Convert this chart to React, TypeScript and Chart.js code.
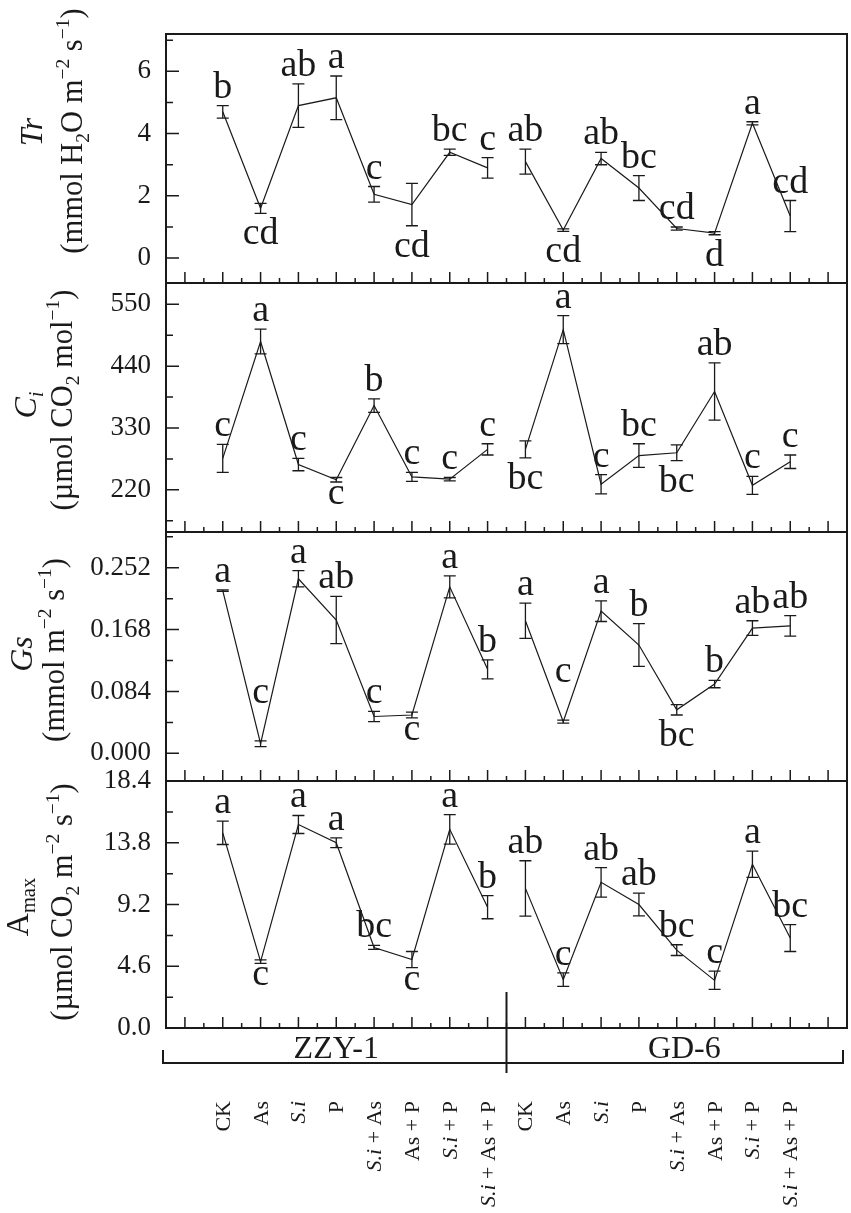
import React, { useEffect, useRef } from 'react';
import { Chart, registerables } from 'chart.js';

Chart.register(...registerables);

const FAMILY = '"Liberation Serif", "Times New Roman", Times, serif';
const W = 851;
const H = 1213;
const INK = '#1a1a1a';

// ---------- categories ----------
const GROUPS = ['ZZY-1', 'GD-6'];
const TREATMENTS = ['CK', 'As', 'S.i', 'P', 'S.i + As', 'As + P', 'S.i + P', 'S.i + As + P'];

// ---------- Tr ----------
const TR_ZZY = [4.7, 1.6, 4.9, 5.15, 2.05, 1.72, 3.4, 2.9];
const TR_ZZY_SD = [0.2, 0.16, 0.7, 0.7, 0.25, 0.68, 0.1, 0.33];
const TR_GD = [3.1, 0.9, 3.2, 2.25, 0.95, 0.8, 4.33, 1.35];
const TR_GD_SD = [0.4, 0.04, 0.2, 0.4, 0.05, 0.05, 0.05, 0.5];
const TR_ZZY_LET = ['b', 'cd', 'ab', 'a', 'c', 'cd', 'bc', 'c'];
const TR_GD_LET = ['ab', 'cd', 'ab', 'bc', 'cd', 'd', 'a', 'cd'];
const TR_ZZY_SIDE = ['t', 'b', 't', 't', 't', 'b', 't', 't'];
const TR_GD_SIDE = ['t', 'b', 't', 't', 't', 'b', 't', 't'];
const TR_TICKS = [0, 2, 4, 6];
const TR_MINOR = [1, 3, 5, 7];

// ---------- Ci ----------
const CI_ZZY = [276, 484, 265, 238, 370, 243, 239, 292];
const CI_ZZY_SD = [25, 22, 11, 4, 12, 8, 3, 10];
const CI_GD = [292, 505, 230, 281, 286, 395, 228, 270];
const CI_GD_SD = [15, 25, 17, 21, 14, 51, 16, 12];
const CI_ZZY_LET = ['c', 'a', 'c', 'c', 'b', 'c', 'c', 'c'];
const CI_GD_LET = ['bc', 'a', 'c', 'bc', 'bc', 'ab', 'c', 'c'];
const CI_ZZY_SIDE = ['t', 't', 't', 'b', 't', 't', 't', 't'];
const CI_GD_SIDE = ['b', 't', 't', 't', 'b', 't', 't', 't'];
const CI_TICKS = [220, 330, 440, 550];
const CI_MINOR = [165, 275, 385, 495];

// ---------- Gs ----------
const GS_ZZY = [0.221, 0.013, 0.237, 0.181, 0.05, 0.052, 0.226, 0.114];
const GS_ZZY_SD = [0.001, 0.004, 0.011, 0.032, 0.007, 0.004, 0.015, 0.013];
const GS_GD = [0.18, 0.043, 0.193, 0.147, 0.059, 0.094, 0.17, 0.173];
const GS_GD_SD = [0.024, 0.002, 0.014, 0.029, 0.007, 0.005, 0.01, 0.014];
const GS_ZZY_LET = ['a', 'c', 'a', 'ab', 'c', 'c', 'a', 'b'];
const GS_GD_LET = ['a', 'c', 'a', 'b', 'bc', 'b', 'ab', 'ab'];
const GS_ZZY_SIDE = ['t', 'T', 't', 't', 't', 'b', 't', 't'];
const GS_GD_SIDE = ['t', 'T', 't', 't', 'b', 't', 't', 't'];
const GS_TICKS = [0, 0.084, 0.168, 0.252];
const GS_MINOR = [0.042, 0.126, 0.21, 0.294];

// ---------- Amax ----------
const AM_ZZY = [14.54, 4.95, 15.16, 13.8, 6.0, 5.1, 14.8, 9.0];
const AM_ZZY_SD = [0.87, 0.13, 0.67, 0.37, 0.15, 0.6, 1.1, 0.86];
const AM_GD = [10.4, 3.6, 10.85, 9.2, 5.8, 3.55, 12.2, 6.7];
const AM_GD_SD = [2.06, 0.5, 1.1, 0.85, 0.4, 0.68, 0.98, 1.0];
const AM_ZZY_LET = ['a', 'c', 'a', 'a', 'bc', 'c', 'a', 'b'];
const AM_GD_LET = ['ab', 'c', 'ab', 'ab', 'bc', 'c', 'a', 'bc'];
const AM_ZZY_SIDE = ['t', 'b', 't', 't', 't', 'b', 't', 't'];
const AM_GD_SIDE = ['t', 't', 't', 't', 't', 't', 't', 't'];
const AM_TICKS = [0, 4.6, 9.2, 13.8, 18.4];
const AM_MINOR = [2.3, 6.9, 11.5, 16.1];

// ---------- x axis ticks ----------
const X_MAJOR = [-1, 0, 1, 2, 3, 4, 5, 6, 7, 8, 9, 10, 11, 12, 13, 14, 15, 16];
const X_MINOR = [-0.5, 0.5, 1.5, 2.5, 3.5, 4.5, 5.5, 6.5, 7.5, 8.5, 9.5, 10.5, 11.5, 12.5, 13.5, 14.5, 15.5];

type Seg = { t: string; it?: boolean; sub?: boolean; sup?: boolean };

interface Panel {
  zzy: number[]; zzySd: number[]; gd: number[]; gdSd: number[];
  zzyLet: string[]; gdLet: string[]; zzySide: string[]; gdSide: string[];
  min: number; max: number; ticks: number[]; minor: number[]; decimals: number;
  top: number; bottom: number;
  title1: Seg[]; title2: Seg[]; t1x: number; t2x: number; t1y: number; t2y: number;
  last?: boolean;
}

const PANELS: Panel[] = [
  {
    zzy: TR_ZZY, zzySd: TR_ZZY_SD, gd: TR_GD, gdSd: TR_GD_SD,
    zzyLet: TR_ZZY_LET, gdLet: TR_GD_LET, zzySide: TR_ZZY_SIDE, gdSide: TR_GD_SIDE,
    min: -0.8, max: 7.2, ticks: TR_TICKS, minor: TR_MINOR, decimals: 0,
    top: 34, bottom: 283,
    title1: [{ t: 'Tr', it: true }],
    title2: [{ t: '(mmol H' }, { t: '2', sub: true }, { t: 'O m' }, { t: '\u22122', sup: true }, { t: ' s' }, { t: '\u22121', sup: true }, { t: ')' }],
    t1x: 42, t2x: 82, t1y: 132, t2y: 131,
  },
  {
    zzy: CI_ZZY, zzySd: CI_ZZY_SD, gd: CI_GD, gdSd: CI_GD_SD,
    zzyLet: CI_ZZY_LET, gdLet: CI_GD_LET, zzySide: CI_ZZY_SIDE, gdSide: CI_GD_SIDE,
    min: 145, max: 588, ticks: CI_TICKS, minor: CI_MINOR, decimals: 0,
    top: 283, bottom: 532,
    title1: [{ t: 'C', it: true }, { t: 'i', it: true, sub: true }],
    title2: [{ t: '(\u00b5mol CO' }, { t: '2', sub: true }, { t: ' mol' }, { t: '\u22121', sup: true }, { t: ')' }],
    t1x: 36, t2x: 72, t1y: 405, t2y: 400,
  },
  {
    zzy: GS_ZZY, zzySd: GS_ZZY_SD, gd: GS_GD, gdSd: GS_GD_SD,
    zzyLet: GS_ZZY_LET, gdLet: GS_GD_LET, zzySide: GS_ZZY_SIDE, gdSide: GS_GD_SIDE,
    min: -0.0376, max: 0.3005, ticks: GS_TICKS, minor: GS_MINOR, decimals: 3,
    top: 532, bottom: 781,
    title1: [{ t: 'Gs', it: true }],
    title2: [{ t: '(mmol m' }, { t: '\u22122', sup: true }, { t: ' s' }, { t: '\u22121', sup: true }, { t: ')' }],
    t1x: 32, t2x: 64, t1y: 654, t2y: 650,
  },
  {
    zzy: AM_ZZY, zzySd: AM_ZZY_SD, gd: AM_GD, gdSd: AM_GD_SD,
    zzyLet: AM_ZZY_LET, gdLet: AM_GD_LET, zzySide: AM_ZZY_SIDE, gdSide: AM_GD_SIDE,
    min: 0, max: 18.4, ticks: AM_TICKS, minor: AM_MINOR, decimals: 1,
    top: 781, bottom: 1028,
    title1: [{ t: 'A' }, { t: 'max', sub: true }],
    title2: [{ t: '(\u00b5mol CO' }, { t: '2', sub: true }, { t: ' m' }, { t: '\u22122', sup: true }, { t: ' s' }, { t: '\u22121', sup: true }, { t: ')' }],
    t1x: 28, t2x: 72, t1y: 907, t2y: 902,
    last: true,
  },
];

function segFont(s: Seg, size: number) {
  const sz = s.sub || s.sup ? size * 0.64 : size;
  return `${s.it ? 'italic ' : ''}${sz}px ${FAMILY}`;
}
function measureSegs(ctx: CanvasRenderingContext2D, segs: Seg[], size: number) {
  let w = 0;
  for (const s of segs) { ctx.font = segFont(s, size); w += ctx.measureText(s.t).width; }
  return w;
}
function drawSegs(ctx: CanvasRenderingContext2D, segs: Seg[], x: number, y: number, size: number) {
  let cx = x;
  ctx.textAlign = 'left';
  ctx.textBaseline = 'alphabetic';
  for (const s of segs) {
    ctx.font = segFont(s, size);
    const dy = s.sub ? size * 0.22 : s.sup ? -size * 0.42 : 0;
    ctx.fillText(s.t, cx, y + dy);
    cx += ctx.measureText(s.t).width;
  }
}
function catSegs(label: string): Seg[] {
  if (label.startsWith('S.i')) return [{ t: 'S.i', it: true }, { t: label.slice(3) }];
  return [{ t: label }];
}

function makeDecor(p: Panel) {
  return {
    id: 'decor',
    afterDraw(chart: any) {
      const ctx: CanvasRenderingContext2D = chart.ctx;
      const a = chart.chartArea;
      const xs = chart.scales.x;
      const ys = chart.scales.y;
      ctx.save();
      ctx.strokeStyle = INK;
      ctx.fillStyle = INK;

      // error bars + letters
      const groups: [number[], number[], string[], string[], number][] = [
        [p.zzy, p.zzySd, p.zzyLet, p.zzySide, 0],
        [p.gd, p.gdSd, p.gdLet, p.gdSide, TREATMENTS.length],
      ];
      for (const [vals, sds, lets, sides, off] of groups) {
        vals.forEach((v, i) => {
          const x = xs.getPixelForValue(i + off);
          const yt = ys.getPixelForValue(v + sds[i]);
          const yb = ys.getPixelForValue(v - sds[i]);
          ctx.lineWidth = 1.3;
          ctx.beginPath();
          ctx.moveTo(x, yt); ctx.lineTo(x, yb);
          ctx.moveTo(x - 6, yt); ctx.lineTo(x + 6, yt);
          ctx.moveTo(x - 6, yb); ctx.lineTo(x + 6, yb);
          ctx.stroke();
          ctx.font = `38px ${FAMILY}`;
          ctx.textAlign = 'center';
          ctx.textBaseline = 'alphabetic';
          const m = ctx.measureText(lets[i]);
          let ly: number;
          if (sides[i] === 't') ly = yt - 8;
          else if (sides[i] === 'T') ly = yt - 38;
          else ly = yb + 4 + m.actualBoundingBoxAscent;
          ctx.fillText(lets[i], x, ly);
        });
      }

      // frame
      ctx.lineWidth = 2;
      ctx.strokeRect(a.left, a.top, a.right - a.left, a.bottom - a.top);

      // inward ticks
      ctx.lineWidth = 1.5;
      ctx.beginPath();
      for (const v of X_MAJOR) { const x = xs.getPixelForValue(v); ctx.moveTo(x, a.bottom); ctx.lineTo(x, a.bottom - 11); }
      for (const v of X_MINOR) { const x = xs.getPixelForValue(v); ctx.moveTo(x, a.bottom); ctx.lineTo(x, a.bottom - 5); }
      for (const v of p.ticks) { const y = ys.getPixelForValue(v); ctx.moveTo(a.left, y); ctx.lineTo(a.left + 13, y); }
      for (const v of p.minor) { const y = ys.getPixelForValue(v); ctx.moveTo(a.left, y); ctx.lineTo(a.left + 7, y); }
      ctx.stroke();

      // y titles (rotated)
      const drawTitle = (segs: Seg[], bx: number, cy: number, size: number) => {
        const w = measureSegs(ctx, segs, size);
        ctx.save();
        ctx.translate(bx, cy);
        ctx.rotate(-Math.PI / 2);
        drawSegs(ctx, segs, -w / 2, 0, size);
        ctx.restore();
      };
      drawTitle(p.title1, p.t1x, p.t1y, 32);
      drawTitle(p.title2, p.t2x, p.t2y, 30.5);

      if (p.last) {
        // separator between groups
        const sx = xs.getPixelForValue(TREATMENTS.length - 0.5);
        ctx.lineWidth = 2;
        ctx.beginPath();
        ctx.moveTo(sx, a.bottom - 36); ctx.lineTo(sx, a.bottom + 45);
        // bracket
        const by = a.bottom + 35;
        const lx = a.left - 3;
        const rx = a.right - 4;
        ctx.moveTo(lx, by - 13); ctx.lineTo(lx, by); ctx.lineTo(rx, by); ctx.lineTo(rx, by - 13);
        ctx.stroke();
        // group labels
        ctx.font = `32px ${FAMILY}`;
        ctx.textAlign = 'center';
        ctx.textBaseline = 'alphabetic';
        ctx.fillText(GROUPS[0], xs.getPixelForValue(3.0), by - 5);
        ctx.fillText(GROUPS[1], xs.getPixelForValue(12.2), by - 5);
        // treatment labels (rotated)
        const csize = 22;
        const all = [...TREATMENTS, ...TREATMENTS];
        all.forEach((lab, i) => {
          const x = xs.getPixelForValue(i);
          const segs = catSegs(lab);
          const w = measureSegs(ctx, segs, csize);
          ctx.save();
          ctx.translate(x + 7, a.bottom + 73);
          ctx.rotate(-Math.PI / 2);
          drawSegs(ctx, segs, -w, 0, csize);
          ctx.restore();
        });
      }
      ctx.restore();
    },
  };
}

function buildConfig(p: Panel): any {
  const n = TREATMENTS.length;
  return {
    type: 'line',
    data: {
      datasets: [
        { data: p.zzy.map((v, i) => ({ x: i, y: v })) },
        { data: p.gd.map((v, i) => ({ x: i + n, y: v })) },
      ].map((d) => ({
        ...d,
        borderColor: INK,
        borderWidth: 1.2,
        pointRadius: 0,
        fill: false,
        tension: 0,
      })),
    },
    options: {
      responsive: false,
      animation: false,
      devicePixelRatio: 1,
      layout: { padding: { left: 0, right: 4, top: p.top, bottom: H - p.bottom } },
      plugins: { legend: { display: false }, tooltip: { enabled: false } },
      scales: {
        x: { type: 'linear', min: -1.5, max: 16.5, display: false },
        y: {
          type: 'linear',
          min: p.min,
          max: p.max,
          afterBuildTicks: (s: any) => { s.ticks = p.ticks.map((v) => ({ value: v })); },
          afterFit: (s: any) => { s.width = 166; },
          grid: { display: false, drawTicks: false },
          border: { display: false },
          ticks: {
            padding: 15,
            color: INK,
            font: { family: FAMILY, size: 27 },
            callback: (v: any) => Number(v).toFixed(p.decimals),
          },
        },
      },
    },
    plugins: [makeDecor(p)],
  };
}

export default function App() {
  const refs = useRef<(HTMLCanvasElement | null)[]>([]);
  useEffect(() => {
    const charts = PANELS.map((p, i) => new Chart(refs.current[i] as HTMLCanvasElement, buildConfig(p)));
    return () => charts.forEach((c) => c.destroy());
  }, []);
  return (
    <div style={{ position: 'absolute', left: 0, top: 0, width: W, height: H, background: '#fff' }}>
      {PANELS.map((_, i) => (
        <canvas
          key={i}
          ref={(el) => { refs.current[i] = el; }}
          width={W}
          height={H}
          style={{ position: 'absolute', left: 0, top: 0, width: W, height: H }}
        />
      ))}
    </div>
  );
}
